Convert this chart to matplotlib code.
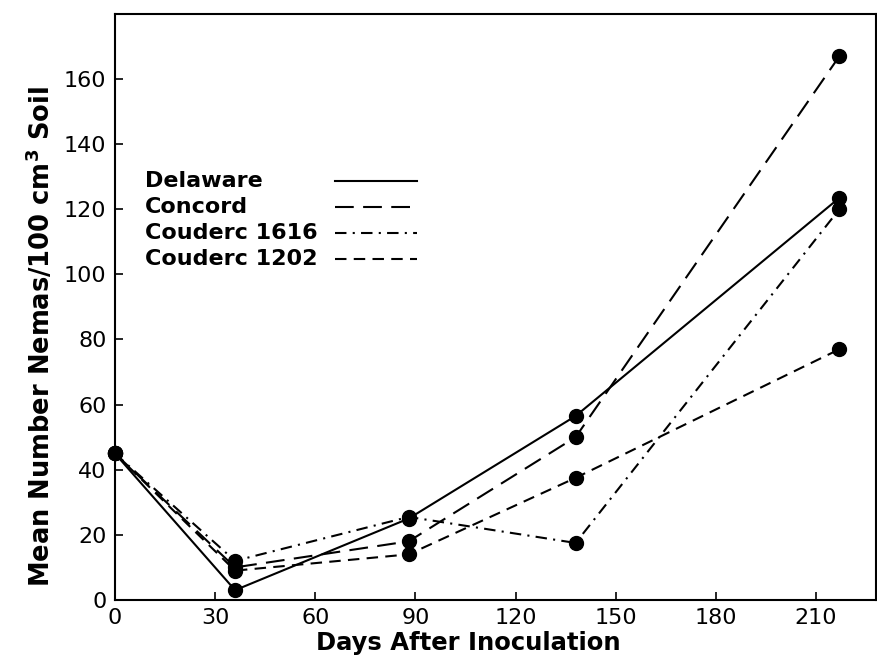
import matplotlib.pyplot as plt

# days after inoculation
days = [0, 36, 88, 138, 217]

# mean number of nemas per 100 cm3 soil
delaware = [45, 3, 25, 56.5, 123.5]
concord = [45, 10, 18, 50, 167]
couderc_1616 = [45, 12, 25.5, 17.5, 120]
couderc_1202 = [45, 9, 14, 37.5, 77]

labels = ['Delaware', 'Concord', 'Couderc 1616', 'Couderc 1202']

x_ticks = [0, 30, 60, 90, 120, 150, 180, 210]
y_ticks = [0, 20, 40, 60, 80, 100, 120, 140, 160]

plt.rcParams['font.family'] = ['DejaVu Sans']

fig = plt.figure(figsize=(8.77, 6.6), dpi=100)
ax = fig.add_axes([0.131, 0.091, 0.868, 0.888])

styles = [
    '-',
    (0, (9, 4.5)),
    (0, (5.5, 3, 1, 3)),
    (0, (5.5, 3.5)),
]
series = [delaware, concord, couderc_1616, couderc_1202]

for vals, ls in zip(series, styles):
    ax.plot(days, vals, color='black', linestyle=ls, linewidth=1.5,
            marker='o', markersize=10, markerfacecolor='black',
            markeredgecolor='black', clip_on=False)

# hand-made legend: text on the left, line key on the right
for i, (lab, ls) in enumerate(zip(labels, styles)):
    yy = 0.714 - i * 0.0439
    ax.text(0.04, yy, lab, transform=ax.transAxes, fontsize=16,
            fontweight='bold', va='center', ha='left')
    ax.plot([0.289, 0.397], [yy, yy], transform=ax.transAxes,
            color='black', linestyle=ls, linewidth=1.5)

ax.set_xlim(0, 228)
ax.set_ylim(0, 180)
ax.set_xticks(x_ticks)
ax.set_yticks(y_ticks)
ax.tick_params(direction='in', length=6, width=1.2, labelsize=16, pad=6)

for sp in ax.spines.values():
    sp.set_linewidth(1.5)

ax.set_xlabel('Days After Inoculation', fontsize=17.5, fontweight='bold',
              labelpad=2, x=0.464)
ax.set_ylabel('Mean Number Nemas/100 cm$^\\mathbf{3}$ Soil', fontsize=18.5,
              fontweight='bold', labelpad=6, y=0.449)

fig.savefig('out.png', dpi=100)
